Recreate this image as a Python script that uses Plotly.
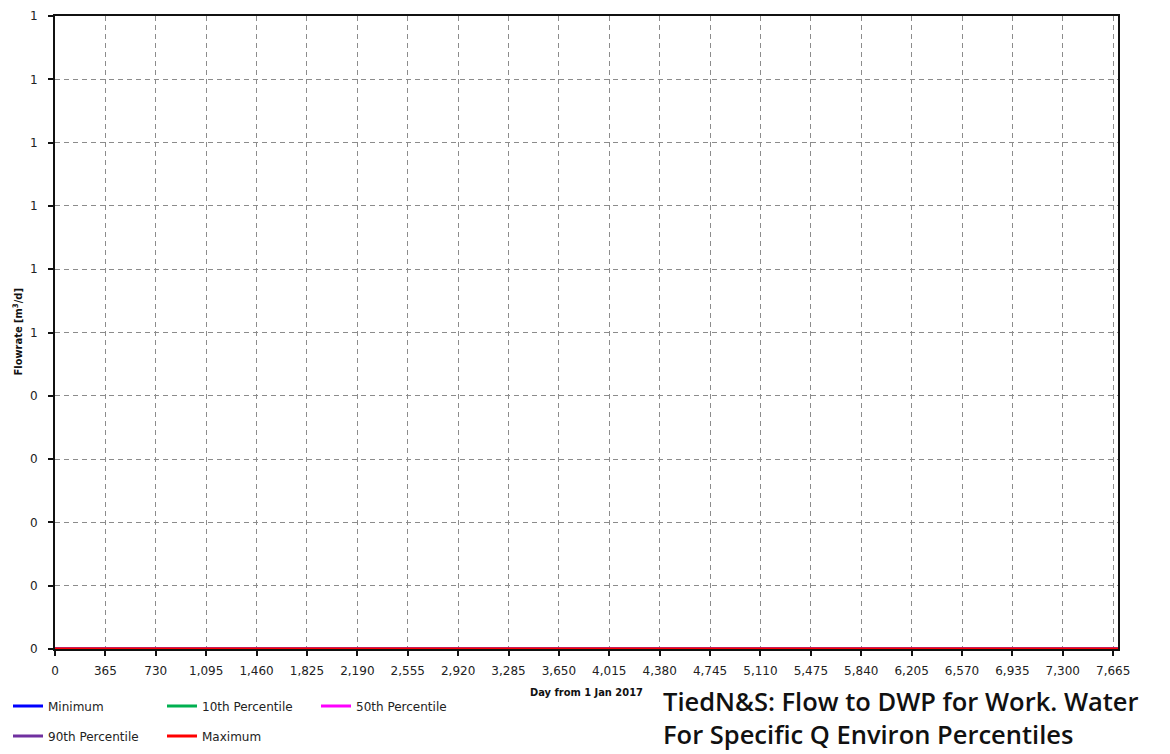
import plotly.graph_objects as go

# Simulation days and flow percentiles (all zero over the run)
days = [0, 7700]
minimum = [0, 0]
p10 = [0, 0]
p50 = [0, 0]
p90 = [0, 0]
maximum = [0, 0]

x_ticks = list(range(0, 7666, 365))
y_ticks = [0, 0.1, 0.2, 0.3, 0.4, 0.5, 0.6, 0.7, 0.8, 0.9, 1.0]
y_tick_text = ["0", "0", "0", "0", "0", "1", "1", "1", "1", "1", "1"]

title_lines = ["TiedN&S: Flow to DWP for Work. Water",
               "For Specific Q Environ Percentiles"]
x_title = "Day from 1 Jan 2017"
y_title = "Flowrate [m<sup>3</sup>/d]"

series = [
    ("Minimum", minimum, "#0000ff", "legend"),
    ("10th Percentile", p10, "#00b050", "legend"),
    ("50th Percentile", p50, "#ff00ff", "legend"),
    ("90th Percentile", p90, "#7030a0", "legend2"),
    ("Maximum", maximum, "#ff0000", "legend2"),
]

W, H = 1170, 754
ML, MR, MT, MB = 55, 52, 16, 105
PW, PH = W - ML - MR, H - MT - MB


def px_x(x):
    return (x - ML) / PW


def px_y(y):
    return (H - MB - y) / PH


fig = go.Figure()
for name, vals, color, leg in series:
    fig.add_trace(go.Scatter(
        x=days, y=vals, mode="lines", name=name,
        line=dict(color=color, width=3), legend=leg,
    ))

tick_font = dict(family="DejaVu Sans", size=12, color="#222222")
leg_common = dict(
    orientation="h", entrywidth=109, entrywidthmode="pixels",
    font=dict(family="DejaVu Sans", size=12, color="#222222"),
    xref="container", yref="container", xanchor="left", yanchor="middle",
    bgcolor="rgba(0,0,0,0)", itemclick=False, tracegroupgap=0,
)
axis_title_font = dict(family="DejaVu Sans Condensed", size=11, color="#111111")
title_font = dict(family="Open Sans", size=25.5, color="#111111", weight=600)

annotations = [
    dict(text=f"<b>{x_title}</b>", xref="paper", yref="paper",
         x=0.5, y=px_y(693), xanchor="center", yanchor="middle",
         showarrow=False, font=axis_title_font),
    dict(text=f"<b>{y_title}</b>", xref="paper", yref="paper",
         x=px_x(18), y=0.5, xanchor="center", yanchor="middle",
         textangle=-90, showarrow=False, font=axis_title_font),
    dict(text="<br>".join(title_lines), xref="paper", yref="paper",
         x=px_x(661), y=px_y(753), xanchor="left", yanchor="bottom",
         align="left", showarrow=False, font=title_font),
]

fig.update_layout(
    width=W, height=H,
    margin=dict(l=ML, r=MR, t=MT, b=MB, autoexpand=False),
    paper_bgcolor="white", plot_bgcolor="white",
    showlegend=True,
    legend=dict(x=8 / W, y=(H - 706) / H, **leg_common),
    legend2=dict(x=8 / W, y=(H - 736) / H, **leg_common),
    xaxis=dict(
        range=[0, 7700], tickvals=x_ticks, tickformat=",d",
        showgrid=True, gridcolor="#8c8c8c", griddash="5px,4px", gridwidth=1,
        showline=True, linecolor="#111111", linewidth=2, mirror=True,
        ticks="outside", ticklen=5, tickwidth=2, tickcolor="#111111",
        tickfont=tick_font, zeroline=False, ticklabelstandoff=5,
    ),
    yaxis=dict(
        range=[0, 1], tickvals=y_ticks, ticktext=y_tick_text,
        showgrid=True, gridcolor="#8c8c8c", griddash="5px,4px", gridwidth=1,
        showline=True, linecolor="#111111", linewidth=2, mirror=True,
        ticks="outside", ticklen=5, tickwidth=2, tickcolor="#111111",
        tickfont=tick_font, zeroline=False, ticklabelstandoff=8,
    ),
    annotations=annotations,
)

fig.write_html("out.html")
